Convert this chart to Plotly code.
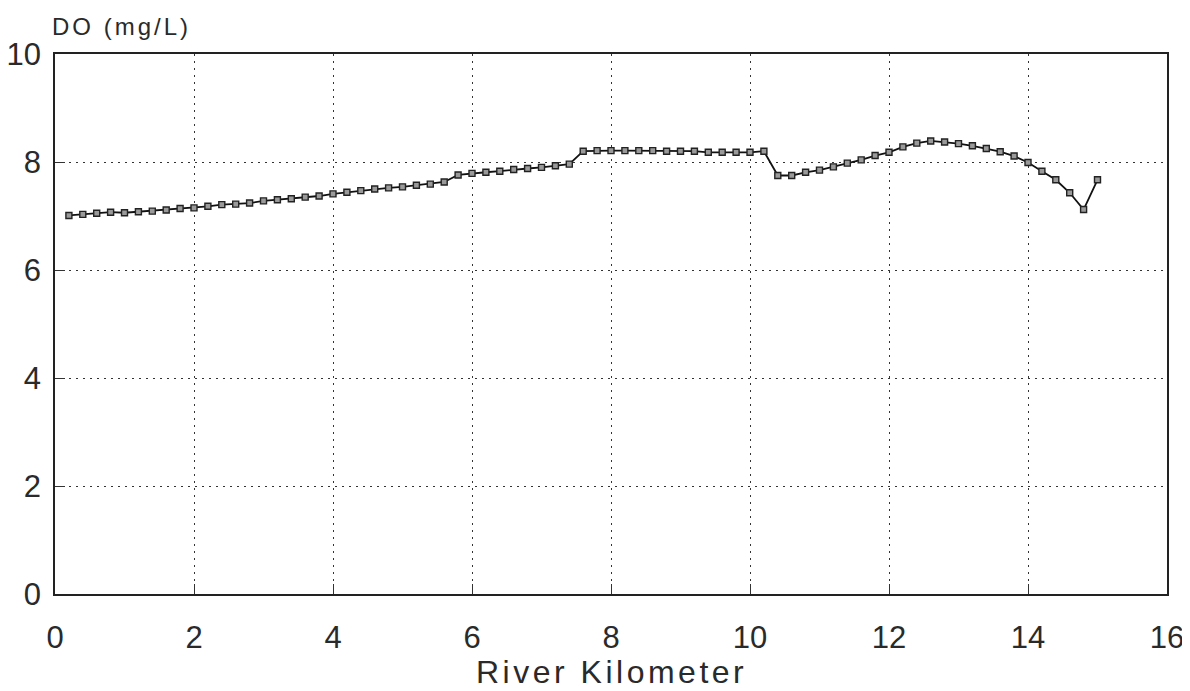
import plotly.graph_objects as go

# River kilometre positions (every 0.2 km from 0.2 to 15.0)
km = [round(0.2 + 0.2 * i, 1) for i in range(75)]

do_mg_l = [
    7.01, 7.03, 7.05, 7.07, 7.06, 7.08, 7.09, 7.11, 7.14, 7.15,   # 0.2 - 2.0
    7.18, 7.21, 7.22, 7.24, 7.28, 7.30, 7.32, 7.35, 7.37, 7.41,   # 2.2 - 4.0
    7.44, 7.47, 7.50, 7.52, 7.54, 7.57, 7.59, 7.63, 7.76, 7.79,   # 4.2 - 6.0
    7.81, 7.83, 7.86, 7.88, 7.90, 7.93, 7.96, 8.20, 8.21, 8.21,   # 6.2 - 8.0
    8.21, 8.21, 8.21, 8.20, 8.20, 8.20, 8.18, 8.18, 8.18, 8.18,   # 8.2 - 10.0
    8.20, 7.75, 7.75, 7.81, 7.85, 7.91, 7.98, 8.04, 8.12, 8.18,   # 10.2 - 12.0
    8.28, 8.35, 8.39, 8.37, 8.34, 8.30, 8.25, 8.19, 8.11, 7.99,   # 12.2 - 14.0
    7.83, 7.67, 7.43, 7.12, 7.67,                                  # 14.2 - 15.0
]

x_ticks = [0, 2, 4, 6, 8, 10, 12, 14, 16]
y_ticks = [0, 2, 4, 6, 8, 10]

FONT = "Liberation Sans, Arial, sans-serif"
TXT = "#2a2a2a"
GRID_DASH = "2px,5px"

fig = go.Figure()
fig.add_trace(go.Scatter(
    x=km, y=do_mg_l, mode="lines+markers",
    line=dict(color="#111111", width=1.8),
    marker=dict(symbol="square", size=6, color="#9a9a9a",
                line=dict(color="#222222", width=1.4)),
    showlegend=False,
))

fig.update_layout(
    width=1182, height=683,
    paper_bgcolor="white", plot_bgcolor="white",
    margin=dict(l=47, r=23, t=46, b=97, autoexpand=False),
    font=dict(family=FONT, color=TXT),
    xaxis=dict(
        range=[0, 16], tickvals=x_ticks, ticktext=[str(v) for v in x_ticks],
        showgrid=True, gridcolor="#333333", griddash=GRID_DASH, gridwidth=1,
        showline=True, linecolor="#222222", linewidth=1.5, mirror=True,
        ticks="inside", ticklen=10, tickcolor="#333333",
        tickfont=dict(size=31, family=FONT, color=TXT),
        ticklabelstandoff=15, automargin=False,
        zeroline=False,
    ),
    yaxis=dict(
        range=[0, 10], tickvals=y_ticks, ticktext=[str(v) for v in y_ticks],
        showgrid=True, gridcolor="#333333", griddash=GRID_DASH, gridwidth=1,
        showline=True, linecolor="#222222", linewidth=1.5, mirror=True,
        ticks="inside", ticklen=10, tickcolor="#333333",
        tickfont=dict(size=31, family=FONT, color=TXT),
        ticklabelstandoff=6, automargin=False,
        zeroline=False,
    ),
    annotations=[
        dict(text='<span style="letter-spacing:3px">DO (mg/L)</span>',
             xref="paper", yref="paper", x=0.0, y=1.0,
             xanchor="left", yanchor="bottom", yshift=12, xshift=-5,
             showarrow=False, font=dict(size=24, family=FONT, color=TXT)),
        dict(text='<span style="letter-spacing:3.5px">River Kilometer</span>',
             xref="paper", yref="paper", x=0.5, y=0.0,
             xanchor="center", yanchor="top", yshift=-58,
             showarrow=False, font=dict(size=32, family=FONT, color=TXT)),
    ],
)

fig.write_html("out.html")
